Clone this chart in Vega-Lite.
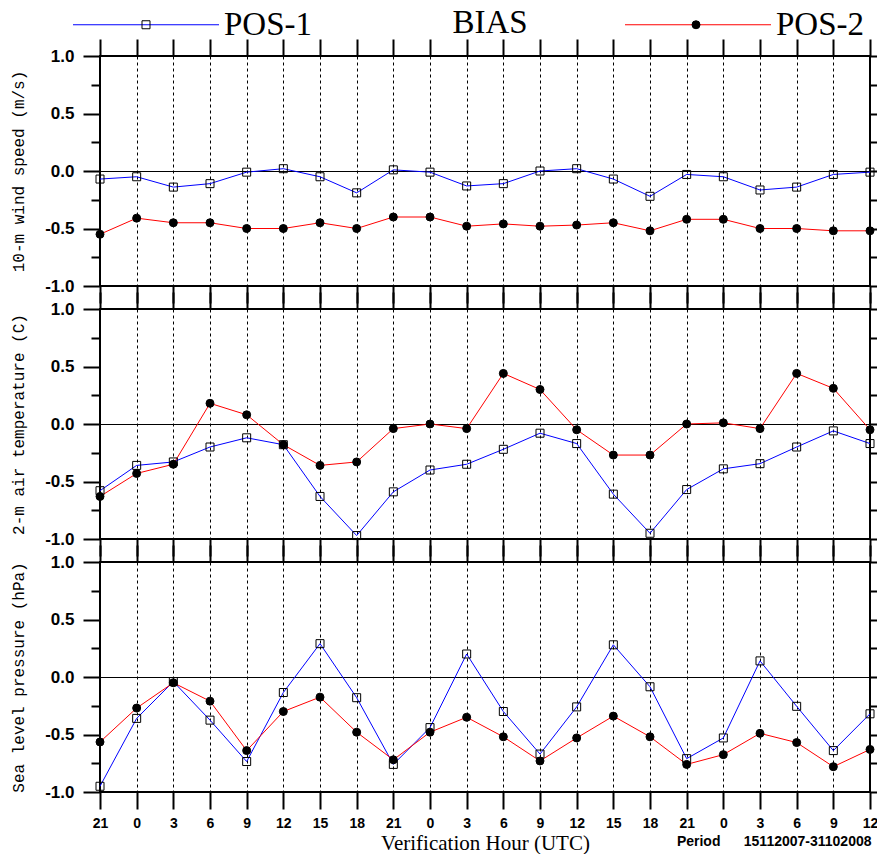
{
  "$schema": "https://vega.github.io/schema/vega-lite/v6.json",
  "background": "white",
  "padding": {"left": 8, "top": 6, "right": 0, "bottom": 0},
  "config": {
    "view": {"stroke": "black", "strokeWidth": 2},
    "axis": {"domain": false, "tickColor": "black", "labelColor": "black", "titleColor": "black", "gridColor": "black", "labelOverlap": false, "labelFlush": false, "labelBound": false},
    "legend": {"padding": 0}
  },
  "data": {"values": [
    {"i": 0, "series": "POS-1", "wind": -0.07, "t2m": -0.58, "slp": -0.95},
    {"i": 1, "series": "POS-1", "wind": -0.05, "t2m": -0.36, "slp": -0.36},
    {"i": 2, "series": "POS-1", "wind": -0.14, "t2m": -0.33, "slp": -0.04},
    {"i": 3, "series": "POS-1", "wind": -0.11, "t2m": -0.20, "slp": -0.375},
    {"i": 4, "series": "POS-1", "wind": -0.01, "t2m": -0.12, "slp": -0.735},
    {"i": 5, "series": "POS-1", "wind": 0.02, "t2m": -0.18, "slp": -0.135},
    {"i": 6, "series": "POS-1", "wind": -0.05, "t2m": -0.63, "slp": 0.29},
    {"i": 7, "series": "POS-1", "wind": -0.19, "t2m": -0.97, "slp": -0.18},
    {"i": 8, "series": "POS-1", "wind": 0.01, "t2m": -0.59, "slp": -0.76},
    {"i": 9, "series": "POS-1", "wind": -0.01, "t2m": -0.40, "slp": -0.44},
    {"i": 10, "series": "POS-1", "wind": -0.13, "t2m": -0.35, "slp": 0.20},
    {"i": 11, "series": "POS-1", "wind": -0.11, "t2m": -0.22, "slp": -0.30},
    {"i": 12, "series": "POS-1", "wind": 0.00, "t2m": -0.08, "slp": -0.67},
    {"i": 13, "series": "POS-1", "wind": 0.02, "t2m": -0.17, "slp": -0.26},
    {"i": 14, "series": "POS-1", "wind": -0.07, "t2m": -0.61, "slp": 0.28},
    {"i": 15, "series": "POS-1", "wind": -0.22, "t2m": -0.95, "slp": -0.085},
    {"i": 16, "series": "POS-1", "wind": -0.03, "t2m": -0.57, "slp": -0.71},
    {"i": 17, "series": "POS-1", "wind": -0.05, "t2m": -0.39, "slp": -0.53},
    {"i": 18, "series": "POS-1", "wind": -0.165, "t2m": -0.345, "slp": 0.14},
    {"i": 19, "series": "POS-1", "wind": -0.14, "t2m": -0.20, "slp": -0.255},
    {"i": 20, "series": "POS-1", "wind": -0.03, "t2m": -0.06, "slp": -0.64},
    {"i": 21, "series": "POS-1", "wind": -0.01, "t2m": -0.17, "slp": -0.32},
    {"i": 0, "series": "POS-2", "wind": -0.55, "t2m": -0.63, "slp": -0.565},
    {"i": 1, "series": "POS-2", "wind": -0.41, "t2m": -0.43, "slp": -0.27},
    {"i": 2, "series": "POS-2", "wind": -0.45, "t2m": -0.35, "slp": -0.05},
    {"i": 3, "series": "POS-2", "wind": -0.45, "t2m": 0.18, "slp": -0.21},
    {"i": 4, "series": "POS-2", "wind": -0.50, "t2m": 0.08, "slp": -0.64},
    {"i": 5, "series": "POS-2", "wind": -0.50, "t2m": -0.18, "slp": -0.30},
    {"i": 6, "series": "POS-2", "wind": -0.45, "t2m": -0.36, "slp": -0.175},
    {"i": 7, "series": "POS-2", "wind": -0.50, "t2m": -0.33, "slp": -0.48},
    {"i": 8, "series": "POS-2", "wind": -0.40, "t2m": -0.04, "slp": -0.72},
    {"i": 9, "series": "POS-2", "wind": -0.40, "t2m": 0.00, "slp": -0.48},
    {"i": 10, "series": "POS-2", "wind": -0.48, "t2m": -0.04, "slp": -0.35},
    {"i": 11, "series": "POS-2", "wind": -0.46, "t2m": 0.44, "slp": -0.52},
    {"i": 12, "series": "POS-2", "wind": -0.48, "t2m": 0.30, "slp": -0.73},
    {"i": 13, "series": "POS-2", "wind": -0.47, "t2m": -0.05, "slp": -0.53},
    {"i": 14, "series": "POS-2", "wind": -0.45, "t2m": -0.27, "slp": -0.34},
    {"i": 15, "series": "POS-2", "wind": -0.52, "t2m": -0.27, "slp": -0.52},
    {"i": 16, "series": "POS-2", "wind": -0.42, "t2m": 0.00, "slp": -0.76},
    {"i": 17, "series": "POS-2", "wind": -0.42, "t2m": 0.01, "slp": -0.675},
    {"i": 18, "series": "POS-2", "wind": -0.50, "t2m": -0.04, "slp": -0.49},
    {"i": 19, "series": "POS-2", "wind": -0.50, "t2m": 0.44, "slp": -0.57},
    {"i": 20, "series": "POS-2", "wind": -0.52, "t2m": 0.31, "slp": -0.78},
    {"i": 21, "series": "POS-2", "wind": -0.52, "t2m": -0.05, "slp": -0.63}
  ]},
  "spacing": 23,
  "bounds": "flush",
  "vconcat": [
    {
      "width": 770, "height": 230,
      "title": {"text": "BIAS", "font": "Liberation Serif", "fontSize": 33, "fontWeight": "normal", "color": "black", "anchor": "middle", "frame": "group", "baseline": "alphabetic", "offset": -28, "dx": 5},
      "layer": [
        {"mark": {"type": "rule", "color": "black", "strokeWidth": 1, "yOffset": 0.5},
         "encoding": {"x": {"datum": 0, "type": "quantitative", "axis": null}, "x2": {"datum": 21}, "y": {"datum": 0, "type": "quantitative", "axis": null}}},
        {"mark": {"type": "line", "strokeWidth": 1},
         "encoding": {
           "x": {"field": "i", "type": "quantitative", "scale": {"domain": [0, 21], "nice": false, "zero": false},
                 "axis": {"orient": "bottom", "values": [0,1,2,3,4,5,6,7,8,9,10,11,12,13,14,15,16,17,18,19,20,21], "tickSize": 17, "tickWidth": 2, "labels": false, "grid": true, "gridDash": [3, 3], "gridWidth": 1, "title": null}},
           "y": {"field": "wind", "type": "quantitative", "scale": {"domain": [-1, 1], "nice": false, "zero": false},
                 "axis": {"orient": "left", "values": [-1,-0.75,-0.5,-0.25,0,0.25,0.5,0.75,1],
                          "tickSize": {"condition": {"test": "datum.value*2 == round(datum.value*2)", "value": 17}, "value": 9},
                          "tickWidth": 2, "grid": false,
                          "labelExpr": "datum.value*2 == round(datum.value*2) ? replace(format(datum.value, '.1f'), '\u2212', '-') : ''",
                          "labelFont": "Liberation Sans", "labelFontWeight": "bold", "labelFontSize": 17, "labelPadding": 9,
                          "title": "10-m wind speed (m/s)", "titleFont": "Liberation Mono", "titleFontSize": 16, "titleFontWeight": "normal", "titleX": -82, "titleBaseline": "middle", "titleAngle": -90}},
           "stroke": {"field": "series", "type": "nominal", "scale": {"domain": ["POS-1", "POS-2"], "range": ["#0000ff", "#ff0000"]},
                      "legend": {"orient": "none", "legendX": 29.5, "legendY": -48, "direction": "horizontal", "title": null, "symbolType": "M-18.25,0H18.25", "symbolSize": 64, "symbolStrokeWidth": 1, "labelFont": "Liberation Serif", "labelFontSize": 33, "labelFontWeight": "normal", "labelColor": "black", "labelOffset": 61.5, "columnPadding": 310, "padding": 0}}
         }},
        {"mark": {"type": "point", "filled": true, "stroke": "black", "strokeWidth": 1, "size": 64, "opacity": 1},
         "encoding": {
           "x": {"field": "i", "type": "quantitative", "axis": {"orient": "top", "values": [0,1,2,3,4,5,6,7,8,9,10,11,12,13,14,15,16,17,18,19,20,21], "tickSize": 17, "tickWidth": 2, "labels": false, "grid": false, "title": null}},
           "y": {"field": "wind", "type": "quantitative", "axis": {"orient": "right", "values": [-1,-0.75,-0.5,-0.25,0,0.25,0.5,0.75,1], "tickSize": 9, "tickWidth": 2, "labels": false, "grid": false, "title": null}},
           "shape": {"field": "series", "type": "nominal", "scale": {"range": ["square", "circle"]},
                     "legend": {"orient": "none", "legendX": 29.5, "legendY": -48, "direction": "horizontal", "title": null, "symbolSize": 64, "symbolStrokeColor": "black", "symbolStrokeWidth": 1, "symbolOpacity": 1, "labelFont": "Liberation Serif", "labelFontSize": 33, "labelFontWeight": "normal", "labelExpr": "''", "labelOffset": 61.5, "columnPadding": 455, "padding": 0,
                                "encode": {"symbols": {"update": {"stroke": {"value": "black"}, "strokeWidth": {"value": 1}}}}}},
           "fill": {"field": "series", "type": "nominal", "scale": {"range": ["transparent", "black"]},
                    "legend": {"orient": "none", "legendX": 29.5, "legendY": -48, "direction": "horizontal", "title": null, "symbolSize": 64, "symbolStrokeColor": "black", "symbolStrokeWidth": 1, "symbolOpacity": 1, "labelFont": "Liberation Serif", "labelFontSize": 33, "labelFontWeight": "normal", "labelExpr": "''", "labelOffset": 61.5, "columnPadding": 455, "padding": 0,
                               "encode": {"symbols": {"update": {"stroke": {"value": "black"}, "strokeWidth": {"value": 1}}}}}}
         }}
      ],
      "resolve": {"axis": {"x": "independent", "y": "independent"}}
    },
    {
      "width": 770, "height": 230,
      "layer": [
        {"mark": {"type": "rule", "color": "black", "strokeWidth": 1, "yOffset": 0.5},
         "encoding": {"x": {"datum": 0, "type": "quantitative", "axis": null}, "x2": {"datum": 21}, "y": {"datum": 0, "type": "quantitative", "axis": null}}},
        {"mark": {"type": "line", "strokeWidth": 1},
         "encoding": {
           "x": {"field": "i", "type": "quantitative", "scale": {"domain": [0, 21], "nice": false, "zero": false},
                 "axis": {"orient": "bottom", "values": [0,1,2,3,4,5,6,7,8,9,10,11,12,13,14,15,16,17,18,19,20,21], "tickSize": 17, "tickWidth": 2, "labels": false, "grid": true, "gridDash": [3, 3], "gridWidth": 1, "title": null}},
           "y": {"field": "t2m", "type": "quantitative", "scale": {"domain": [-1, 1], "nice": false, "zero": false},
                 "axis": {"orient": "left", "values": [-1,-0.75,-0.5,-0.25,0,0.25,0.5,0.75,1],
                          "tickSize": {"condition": {"test": "datum.value*2 == round(datum.value*2)", "value": 17}, "value": 9},
                          "tickWidth": 2, "grid": false,
                          "labelExpr": "datum.value*2 == round(datum.value*2) ? replace(format(datum.value, '.1f'), '\u2212', '-') : ''",
                          "labelFont": "Liberation Sans", "labelFontWeight": "bold", "labelFontSize": 17, "labelPadding": 9,
                          "title": "2-m air temperature (C)", "titleFont": "Liberation Mono", "titleFontSize": 16, "titleFontWeight": "normal", "titleX": -82, "titleBaseline": "middle", "titleAngle": -90}},
           "stroke": {"field": "series", "type": "nominal", "scale": {"domain": ["POS-1", "POS-2"], "range": ["#0000ff", "#ff0000"]}}
         }},
        {"mark": {"type": "point", "filled": true, "stroke": "black", "strokeWidth": 1, "size": 64, "opacity": 1},
         "encoding": {
           "x": {"field": "i", "type": "quantitative", "axis": {"orient": "top", "values": [0,1,2,3,4,5,6,7,8,9,10,11,12,13,14,15,16,17,18,19,20,21], "tickSize": 17, "tickWidth": 2, "labels": false, "grid": false, "title": null}},
           "y": {"field": "t2m", "type": "quantitative", "axis": {"orient": "right", "values": [-1,-0.75,-0.5,-0.25,0,0.25,0.5,0.75,1], "tickSize": 9, "tickWidth": 2, "labels": false, "grid": false, "title": null}},
           "shape": {"field": "series", "type": "nominal", "scale": {"range": ["square", "circle"]}},
           "fill": {"field": "series", "type": "nominal", "scale": {"range": ["transparent", "black"]}}
         }}
      ],
      "resolve": {"axis": {"x": "independent", "y": "independent"}}
    },
    {
      "width": 770, "height": 230,
      "layer": [
        {"mark": {"type": "rule", "color": "black", "strokeWidth": 1, "yOffset": 0.5},
         "encoding": {"x": {"datum": 0, "type": "quantitative",
                            "axis": {"orient": "bottom", "ticks": false, "labels": false, "grid": false, "domain": false,
                                     "title": "Period\u00a0\u00a0\u00a0\u00a0\u00a0\u00a015112007-31102008", "titleX": 771, "titleY": 53, "titleAlign": "right", "titleBaseline": "alphabetic", "titleFont": "Liberation Sans", "titleFontSize": 14, "titleFontWeight": "bold"}},
                      "x2": {"datum": 21}, "y": {"datum": 0, "type": "quantitative", "axis": null}}},
        {"mark": {"type": "line", "strokeWidth": 1},
         "encoding": {
           "x": {"field": "i", "type": "quantitative", "scale": {"domain": [0, 21], "nice": false, "zero": false},
                 "axis": {"orient": "bottom", "values": [0,1,2,3,4,5,6,7,8,9,10,11,12,13,14,15,16,17,18,19,20,21], "tickSize": 17, "tickWidth": 2, "grid": true, "gridDash": [3, 3], "gridWidth": 1,
                          "labelExpr": "['21','0','3','6','9','12','15','18','21','0','3','6','9','12','15','18','21','0','3','6','9','12'][datum.value]",
                          "labelFont": "Liberation Sans", "labelFontWeight": "bold", "labelFontSize": 14, "labelPadding": 7,
                          "title": "Verification Hour (UTC)", "titleFont": "Liberation Serif", "titleFontSize": 21, "titleFontWeight": "normal", "titleY": 57, "titleBaseline": "alphabetic"}},
           "y": {"field": "slp", "type": "quantitative", "scale": {"domain": [-1, 1], "nice": false, "zero": false},
                 "axis": {"orient": "left", "values": [-1,-0.75,-0.5,-0.25,0,0.25,0.5,0.75,1],
                          "tickSize": {"condition": {"test": "datum.value*2 == round(datum.value*2)", "value": 17}, "value": 9},
                          "tickWidth": 2, "grid": false,
                          "labelExpr": "datum.value*2 == round(datum.value*2) ? replace(format(datum.value, '.1f'), '\u2212', '-') : ''",
                          "labelFont": "Liberation Sans", "labelFontWeight": "bold", "labelFontSize": 17, "labelPadding": 9,
                          "title": "Sea level pressure (hPa)", "titleFont": "Liberation Mono", "titleFontSize": 16, "titleFontWeight": "normal", "titleX": -82, "titleBaseline": "middle", "titleAngle": -90}},
           "stroke": {"field": "series", "type": "nominal", "scale": {"domain": ["POS-1", "POS-2"], "range": ["#0000ff", "#ff0000"]}}
         }},
        {"mark": {"type": "point", "filled": true, "stroke": "black", "strokeWidth": 1, "size": 64, "opacity": 1},
         "encoding": {
           "x": {"field": "i", "type": "quantitative", "axis": {"orient": "top", "values": [0,1,2,3,4,5,6,7,8,9,10,11,12,13,14,15,16,17,18,19,20,21], "tickSize": 17, "tickWidth": 2, "labels": false, "grid": false, "title": null}},
           "y": {"field": "slp", "type": "quantitative", "axis": {"orient": "right", "values": [-1,-0.75,-0.5,-0.25,0,0.25,0.5,0.75,1], "tickSize": 9, "tickWidth": 2, "labels": false, "grid": false, "title": null}},
           "shape": {"field": "series", "type": "nominal", "scale": {"range": ["square", "circle"]}},
           "fill": {"field": "series", "type": "nominal", "scale": {"range": ["transparent", "black"]}}
         }}
      ],
      "resolve": {"axis": {"x": "independent", "y": "independent"}}
    }
  ]
}
